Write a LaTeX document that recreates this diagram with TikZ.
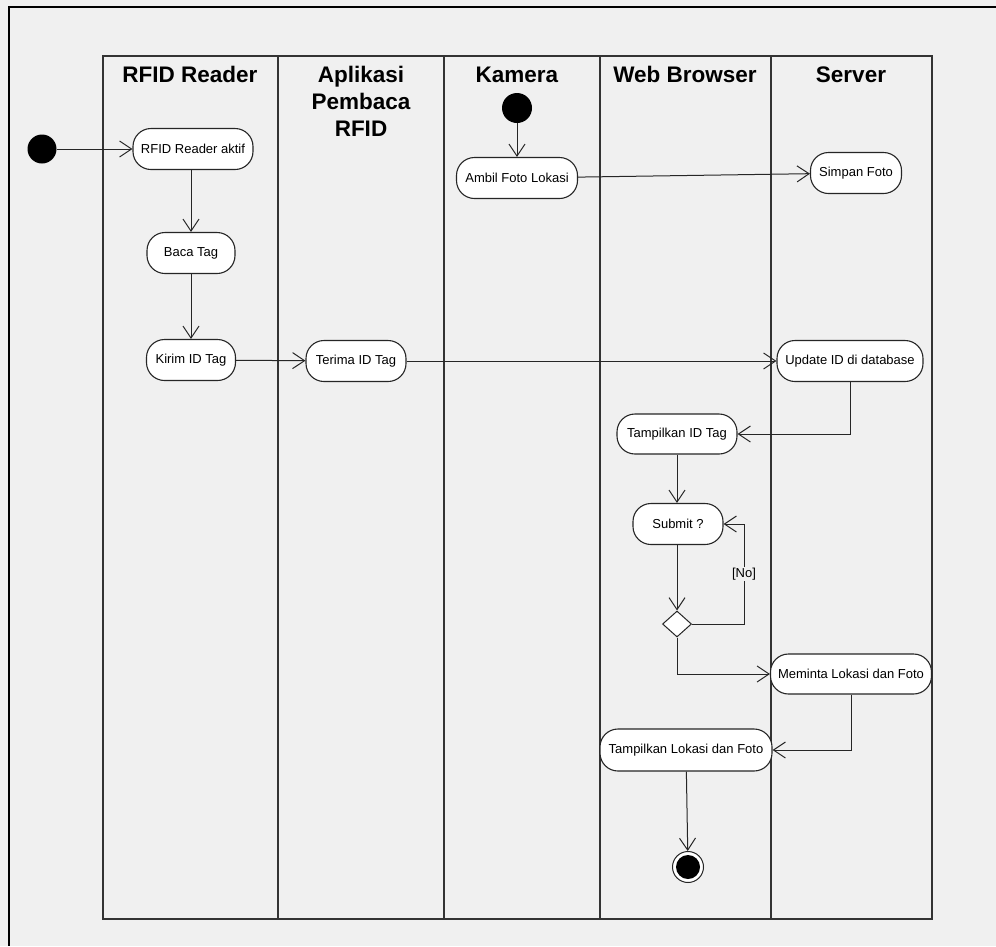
\documentclass[tikz,border=0pt]{standalone}
\usepackage{fontspec}
\setmainfont{Liberation Sans}
\usetikzlibrary{arrows.meta,shapes.geometric}
\definecolor{paper}{HTML}{F0F0F0}
\begin{document}
\begin{tikzpicture}[x=1pt,y=-1pt,
  act/.style={draw=black!85, line width=1.1pt, fill=white, rounded corners=18pt,
    minimum height=41pt, inner sep=2pt, font=\fontsize{13}{15}\selectfont},
  flow/.style={draw=black!85, line width=1pt,
    -{Straight Barb[length=12pt,width=16pt,line width=1pt]}},
  lane/.style={draw=black!80, line width=1.3pt},
  hdr/.style={font=\fontsize{22.5}{27}\selectfont\bfseries, align=center,
    anchor=base, inner sep=0pt},
  startdot/.style={circle, fill=black, minimum size=29pt, inner sep=0pt},
  enddot/.style={circle, draw=black!85, line width=1pt, fill=white,
    minimum size=31pt, inner sep=0pt,
    path picture={\fill[black] (path picture bounding box.center) circle (12pt);}},
  guard/.style={fill=paper, inner sep=1pt, font=\fontsize{13}{15}\selectfont}
]
\useasboundingbox (0,0) rectangle (996,946);
\fill[paper] (0,0) rectangle (996,946);

% outer frame
\draw[line width=2.2pt, line join=miter] (996,7) -- (9,7) -- (9,946);

% swimlanes
\draw[lane] (103,56) rectangle (932,919);
\foreach \lx in {278,444,600,771} \draw[lane] (\lx,56) -- (\lx,919);

% lane headers (base anchor of a multi-line header sits on its last line)
\node[hdr] (hRFID) at (190,82) {RFID Reader};
\node[hdr] (hApp)  at (361,136) {Aplikasi\\Pembaca\\RFID};
\node[hdr] (hCam)  at (517,82) {Kamera};
\node[hdr] (hWeb)  at (685,82) {Web Browser};
\node[hdr] (hSrv)  at (851,82) {Server};

% activities
\node[startdot] (s1) at (42,149) {};
\node[act, minimum width=120pt] (aktif) at (193,149) {RFID Reader aktif};
\node[act, minimum width=88pt]  (baca)  at (191,253) {Baca Tag};
\node[act, minimum width=89pt]  (kirim) at (191,360) {Kirim ID Tag};
\node[act, minimum width=100pt] (terima) at (356,361) {Terima ID Tag};
\node[startdot, minimum size=30pt] (s2) at (517,108) {};
\node[act, minimum width=121pt] (ambil) at (517,178) {Ambil Foto Lokasi};
\node[act, minimum width=91pt]  (simpan) at (856,173) {Simpan Foto};
\node[act, minimum width=146pt] (update) at (850,361) {Update ID di database};
\node[act, minimum width=120pt, minimum height=40pt] (tampid) at (677,434) {Tampilkan ID Tag};
\node[act, minimum width=90pt]  (submit) at (678,524) {Submit ?};
\node[diamond, draw=black!85, line width=1pt, fill=white, minimum width=29pt,
      minimum height=26pt, inner sep=0pt] (dec) at (677,624) {};
\node[act, minimum width=161pt, minimum height=40pt] (minta) at (851,674) {Meminta Lokasi dan Foto};
\node[act, minimum width=172pt, minimum height=42pt] (tamplok) at (686,750) {Tampilkan Lokasi dan Foto};
\node[enddot] (end) at (688,867) {};

% transitions
\draw[flow] (s1) -- (aktif);
\draw[flow] (aktif.south -| baca) -- (baca.north);
\draw[flow] (baca) -- (kirim);
\draw[flow] (kirim) -- (terima);
\draw[flow] (terima) -- (update);
\draw[flow] (s2) -- (ambil);
\draw[flow] (ambil) -- (simpan);
\draw[flow] (update.south) |- (tampid.east);
\draw[flow] (tampid.south) -- (tampid.south |- submit.north);
\draw[flow] (submit.south -| dec) -- (dec.north);
\coordinate (loop) at (744,624);
\draw[flow] (dec.east) -- (loop) |- (submit.east);
\node[guard] (no) at (744,574) {[No]};
\draw[flow] (dec.south) |- (minta.west);
\draw[flow] (minta.south) |- (tamplok.east);
\draw[flow] (tamplok) -- (end);
\end{tikzpicture}
\end{document}
